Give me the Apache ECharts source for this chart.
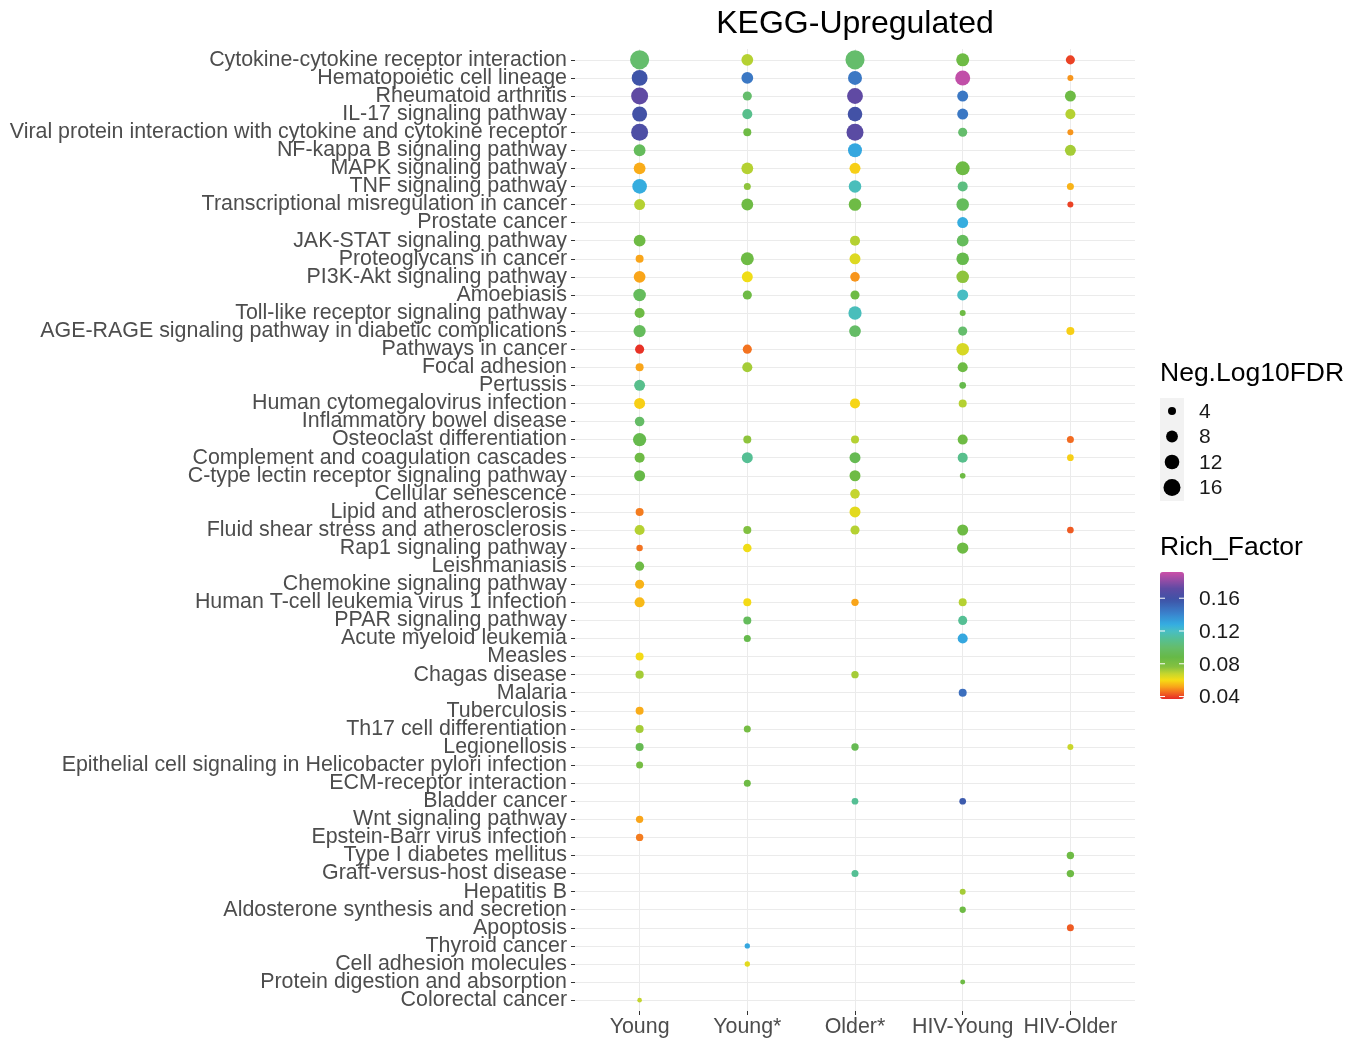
<!DOCTYPE html>
<html>
<head>
<meta charset="utf-8">
<script src="https://cdn.jsdelivr.net/npm/echarts@6/dist/echarts.min.js"></script>
<style>html,body{margin:0;padding:0;background:#fff;}#c{width:1360px;height:1040px;}</style>
</head>
<body>
<div id="c"></div>
<script>
const categories = [
"Cytokine-cytokine receptor interaction","Hematopoietic cell lineage","Rheumatoid arthritis","IL-17 signaling pathway",
"Viral protein interaction with cytokine and cytokine receptor","NF-kappa B signaling pathway","MAPK signaling pathway",
"TNF signaling pathway","Transcriptional misregulation in cancer","Prostate cancer","JAK-STAT signaling pathway",
"Proteoglycans in cancer","PI3K-Akt signaling pathway","Amoebiasis","Toll-like receptor signaling pathway",
"AGE-RAGE signaling pathway in diabetic complications","Pathways in cancer","Focal adhesion","Pertussis",
"Human cytomegalovirus infection","Inflammatory bowel disease","Osteoclast differentiation",
"Complement and coagulation cascades","C-type lectin receptor signaling pathway","Cellular senescence",
"Lipid and atherosclerosis","Fluid shear stress and atherosclerosis","Rap1 signaling pathway","Leishmaniasis",
"Chemokine signaling pathway","Human T-cell leukemia virus 1 infection","PPAR signaling pathway",
"Acute myeloid leukemia","Measles","Chagas disease","Malaria","Tuberculosis","Th17 cell differentiation",
"Legionellosis","Epithelial cell signaling in Helicobacter pylori infection","ECM-receptor interaction",
"Bladder cancer","Wnt signaling pathway","Epstein-Barr virus infection","Type I diabetes mellitus",
"Graft-versus-host disease","Hepatitis B","Aldosterone synthesis and secretion","Apoptosis","Thyroid cancer",
"Cell adhesion molecules","Protein digestion and absorption","Colorectal cancer"
];
const groups = ["Young","Young*","Older*","HIV-Young","HIV-Older"];

// Rich_Factor per category (null = not enriched)
const youngRF = [0.100,0.158,0.172,0.160,0.165,0.095,0.053,0.128,0.070,null,
  0.085,0.052,0.052,0.095,0.085,0.095,0.038,0.052,0.108,0.058,
  0.098,0.090,0.085,0.088,null,0.047,0.070,0.046,0.085,0.054,
  0.055,null,null,0.060,0.072,null,0.053,0.072,0.092,0.082,
  null,null,0.052,0.047,null,null,null,null,null,null,
  null,null,0.068];
const youngFDR = [20,14,16,12.6,16,8,8,12,7,null,
  8,4,8,9,6,8.5,5,4,7,7,
  5.5,10,6,7,null,4,6,2.8,5,5,
  6,null,null,4,4.2,null,4,4,4,3.2,
  null,null,3.5,3.5,null,null,null,null,null,null,
  null,null,1.7];
const youngStarRF = [0.070,0.145,0.100,0.108,0.085,null,0.070,0.075,0.085,null,
  null,0.085,0.061,0.085,null,null,0.046,0.072,null,null,
  null,0.075,0.110,null,null,null,0.078,0.061,null,null,
  0.060,0.095,0.090,null,null,null,null,0.082,null,null,
  0.085,null,null,null,null,null,null,null,null,0.130,
  0.063,null,null];
const youngStarFDR = [8,8,5,6,4,null,8,3.2,8,null,
  null,9.6,7,5,null,null,5,6,null,null,
  null,4,7,null,null,null,4,4.5,null,null,
  4,4,3.2,null,null,null,null,3.2,null,null,
  3.2,null,null,null,null,null,null,null,null,2.1,
  2.1,null,null];
const olderStarRF = [0.100,0.145,0.172,0.160,0.170,0.130,0.058,0.118,0.085,null,
  0.070,0.064,0.050,0.085,0.118,0.098,null,null,null,0.059,
  null,0.070,0.092,0.085,0.068,0.063,0.070,null,null,null,
  0.052,null,null,null,0.072,null,null,null,0.092,null,
  null,0.110,null,null,null,0.110,null,null,null,null,
  null,null,null];
const olderStarFDR = [20,11,14,12,16,11,7,9,9,null,
  6,7,5.5,5,10,8,null,null,null,6,
  null,4,7,7,5.5,7,5,null,null,null,
  3.5,null,null,null,3.5,null,null,null,3.5,null,
  null,3,null,null,null,3.2,null,null,null,null,
  null,null,null];
const hivYoungRF = [0.085,0.190,0.145,0.145,0.100,null,0.085,0.105,0.095,0.128,
  0.095,0.090,0.075,0.120,0.085,0.100,0.065,0.085,0.090,0.070,
  null,0.085,0.108,0.085,null,null,0.085,0.085,null,null,
  0.070,0.110,0.130,null,null,0.148,null,null,null,null,
  null,0.155,null,null,null,null,0.072,0.085,null,null,
  null,0.085,null];
const hivYoungFDR = [9.6,12.6,7,7,5,null,11,6,9,7,
  8,9,9,7,2.5,5,9,6,3,4,
  null,6,6,2.3,null,null,7,7.5,null,null,
  4,5,6,null,null,4,null,null,null,null,
  null,3,null,null,null,null,2.5,2.7,null,null,
  null,1.9,null];
const hivOlderRF = [0.040,0.050,0.085,0.070,0.050,0.072,null,0.054,0.040,null,
  null,null,null,null,null,0.058,null,null,null,null,
  null,0.045,0.058,null,null,null,0.043,null,null,null,
  null,null,null,null,null,null,null,null,0.067,null,
  null,null,null,null,0.085,0.085,null,null,0.043,null,
  null,null,null];
const hivOlderFDR = [5,2.5,7,6,2.5,7,null,3.2,2.5,null,
  null,null,null,null,null,4,null,null,null,null,
  null,3.2,3,null,null,null,3,null,null,null,
  null,null,null,null,null,null,null,null,2.5,null,
  null,null,null,null,3.5,3.5,null,null,3.2,null,
  null,null,null];

const sizeBreaks = [4, 8, 12, 16];
const colorTicks = [0.04, 0.08, 0.12, 0.16];
const rfMin = 0.037, rfMax = 0.192;

// palette stops (style)
const paletteStops = [
 [0.037,'#e62a27'],[0.045,'#f26b21'],[0.052,'#f9a51a'],[0.060,'#f6dd14'],
 [0.068,'#c4d62e'],[0.076,'#86c140'],[0.088,'#66b947'],[0.100,'#65bd6c'],
 [0.110,'#55bf94'],[0.120,'#48bec4'],[0.128,'#34ade2'],[0.142,'#3a80cb'],
 [0.158,'#3e53a7'],[0.172,'#5f4aa3'],[0.192,'#cc4fa8']
];
function hex2rgb(h){return [parseInt(h.slice(1,3),16),parseInt(h.slice(3,5),16),parseInt(h.slice(5,7),16)];}
function paletteAt(v){
  for(let i=0;i<paletteStops.length-1;i++){
    const a=paletteStops[i], b=paletteStops[i+1];
    if(v<=b[0]){
      const t=Math.max(0,(v-a[0])/(b[0]-a[0]));
      const ca=hex2rgb(a[1]), cb=hex2rgb(b[1]);
      return 'rgb('+ca.map((c,k)=>Math.round(c+(cb[k]-c)*t)).join(',')+')';
    }
  }
  return paletteStops[paletteStops.length-1][1];
}
const N=80, colorList=[];
for(let i=0;i<N;i++) colorList.push(paletteAt(rfMin+(rfMax-rfMin)*i/(N-1)));

function dotSize(v){ return Math.sqrt(Math.max(4, 18.75*v - 11)); }

const rfCols = [youngRF, youngStarRF, olderStarRF, hivYoungRF, hivOlderRF];
const fdrCols = [youngFDR, youngStarFDR, olderStarFDR, hivYoungFDR, hivOlderFDR];
const data = [];
groups.forEach((g, gi) => {
  categories.forEach((c, ri) => {
    const rf = rfCols[gi][ri], f = fdrCols[gi][ri];
    if (rf != null && f != null) data.push([gi, ri, rf, f]);
  });
});

const FONT = 'Liberation Sans, Arial, sans-serif';
const chart = echarts.init(document.getElementById('c'), null, {renderer:'canvas'});

// colourbar geometry
const cbLeft = 1160, cbTop = 572, cbW = 24, cbH = 127;
function cbY(v){ return cbTop + cbH - (v - rfMin) / (rfMax - rfMin) * cbH; }

const graphics = [];
graphics.push({type:'text', x:855, y:24, style:{text:'KEGG-Upregulated', align:'center', verticalAlign:'middle', font:'32px '+FONT, fill:'#000'}});
graphics.push({type:'text', x:1160, y:374, style:{text:'Neg.Log10FDR', align:'left', verticalAlign:'middle', font:'26.5px '+FONT, fill:'#000'}});
graphics.push({type:'text', x:1160, y:548, style:{text:'Rich_Factor', align:'left', verticalAlign:'middle', font:'26.5px '+FONT, fill:'#000'}});
graphics.push({type:'rect', shape:{x:1160, y:398, width:24, height:103}, style:{fill:'#f2f2f2'}, z:1});
sizeBreaks.forEach((s, i) => {
  const cy = 411 + i * 25.5;
  graphics.push({type:'circle', shape:{cx:1172, cy:cy, r:dotSize(s)/2}, style:{fill:'#000'}, z:2});
  graphics.push({type:'text', x:1199, y:cy+1, style:{text:String(s), align:'left', verticalAlign:'middle', font:'21px '+FONT, fill:'#1a1a1a'}, z:2});
});
colorTicks.forEach(v => {
  const y = cbY(v);
  graphics.push({type:'line', shape:{x1:cbLeft, y1:y, x2:cbLeft+5, y2:y}, style:{stroke:'#fff', lineWidth:1}, z:100});
  graphics.push({type:'line', shape:{x1:cbLeft+cbW-5, y1:y, x2:cbLeft+cbW, y2:y}, style:{stroke:'#fff', lineWidth:1}, z:100});
  graphics.push({type:'text', x:1199, y:y+1, style:{text:v.toFixed(2), align:'left', verticalAlign:'middle', font:'21px '+FONT, fill:'#1a1a1a'}, z:2});
});

const catIdx = categories.map((c,i)=>i);
const grpIdx = groups.map((g,i)=>i);
// empty guard labels at the axis ends so that no real label is treated as min/max
const catLabelIdx = [-0.6].concat(catIdx, [52.6]);
const grpLabelIdx = [-0.6].concat(grpIdx, [4.6]);

chart.setOption({
  animation:false,
  backgroundColor:'#ffffff',
  grid:{left:575, top:49, width:560, height:962, containLabel:false},
  xAxis:{
    type:'value', min:-0.6, max:4.6, position:'bottom',
    axisLine:{show:false, onZero:false},
    axisTick:{show:true, length:4, customValues:grpIdx, lineStyle:{color:'#333333', width:1}},
    axisLabel:{show:true, customValues:grpLabelIdx, hideOverlap:false,
      formatter:v=>groups[Math.round(v)] || '', fontFamily:FONT, fontSize:21.4, color:'#4d4d4d', margin:6},
    splitLine:{show:true, lineStyle:{color:'#ebebeb', width:1}}
  },
  yAxis:{
    type:'value', min:-0.6, max:52.6, inverse:true, position:'left',
    axisLine:{show:false, onZero:false},
    axisTick:{show:true, length:4, customValues:catIdx, lineStyle:{color:'#333333', width:1}},
    axisLabel:{show:true, customValues:catLabelIdx, hideOverlap:false,
      lineHeight:16, formatter:v=>categories[Math.round(v)] || '', fontFamily:FONT, fontSize:21.4, color:'#4d4d4d', margin:8},
    splitLine:{show:true, lineStyle:{color:'#ebebeb', width:1}}
  },
  visualMap:{
    type:'continuous', dimension:2, seriesIndex:0, min:rfMin, max:rfMax,
    inRange:{color:colorList}, calculable:false, orient:'vertical',
    left:cbLeft, top:cbTop, itemWidth:cbW, itemHeight:cbH, padding:0, text:null, hoverLink:false
  },
  series:[{
    type:'scatter', data:data, encode:{x:0, y:1},
    symbol:'circle',
    symbolSize:d=>dotSize(d[3]),
    itemStyle:{opacity:1},
    emphasis:{disabled:true}
  }],
  graphic:graphics
});
</script>
</body>
</html>
